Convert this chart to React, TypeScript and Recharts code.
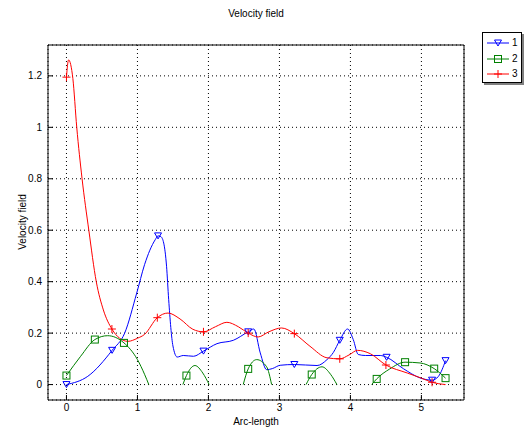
import React from 'react';
import { LineChart, Line, XAxis, YAxis, CartesianGrid, Legend } from 'recharts';

// series 1 (blue, triangles)
const s1X = [0, 0.3, 0.643, 0.82, 0.99, 1.1, 1.25, 1.29, 1.33, 1.37, 1.41, 1.44, 1.5, 1.56, 1.645, 1.79, 1.93, 2.12, 2.35, 2.56, 2.64, 2.73, 2.82, 2.9, 3.01, 3.21, 3.53, 3.67, 3.76, 3.85, 3.96, 4.04, 4.11, 4.21, 4.42, 4.51, 4.75, 4.98, 5.15, 5.24, 5.34];
const s1Y = [0, 0.032, 0.133, 0.2, 0.356, 0.466, 0.563, 0.578, 0.575, 0.55, 0.46, 0.33, 0.15, 0.107, 0.113, 0.11, 0.13, 0.159, 0.172, 0.205, 0.216, 0.123, 0.058, 0.062, 0.075, 0.078, 0.074, 0.097, 0.125, 0.172, 0.216, 0.175, 0.117, 0.113, 0.113, 0.106, 0.061, 0.026, 0.017, 0.032, 0.093];
const s1Marks = [0, 2, 7, 16, 19, 25, 29, 35, 38, 40];

// series 2 (green, squares) - null = gap where the field is negative
const s2X = [0, 0.2, 0.4, 0.58, 0.81, 1.0, 1.1, 1.16, 1.4, 1.64, 1.69, 1.81, 1.92, 2.01, 2.25, 2.49, 2.56, 2.68, 2.82, 2.89, 3.1, 3.375, 3.455, 3.6, 3.72, 3.81, 4.05, 4.3, 4.37, 4.55, 4.77, 4.98, 5.18, 5.34];
const s2Y = [0.035, 0.11, 0.175, 0.19, 0.162, 0.097, 0.04, 0, null, 0, 0.035, 0.074, 0.045, 0, null, 0, 0.061, 0.097, 0.069, 0, null, 0, 0.039, 0.069, 0.04, 0, null, 0, 0.022, 0.06, 0.087, 0.084, 0.062, 0.025];
const s2Marks = [0, 2, 4, 10, 16, 22, 28, 30, 32, 33];

// series 3 (red, plus)
const s3X = [0, 0.03, 0.09, 0.145, 0.22, 0.315, 0.42, 0.52, 0.64, 0.75, 0.865, 1.0, 1.1, 1.28, 1.43, 1.6, 1.78, 1.93, 2.1, 2.26, 2.42, 2.56, 2.7, 2.85, 3.03, 3.21, 3.43, 3.67, 3.85, 3.98, 4.1, 4.28, 4.5, 4.8, 5.0, 5.15, 5.34];
const s3Y = [1.195, 1.262, 1.19, 1.0, 0.8, 0.6, 0.4, 0.29, 0.216, 0.18, 0.168, 0.18, 0.195, 0.26, 0.278, 0.255, 0.215, 0.205, 0.225, 0.242, 0.225, 0.2, 0.185, 0.205, 0.22, 0.198, 0.149, 0.104, 0.1, 0.115, 0.133, 0.12, 0.076, 0.045, 0.025, 0.009, 0];
const s3Marks = [0, 8, 13, 17, 21, 25, 28, 32, 35];

const xTicks = [0, 1, 2, 3, 4, 5];
const yTicks = [0, 0.2, 0.4, 0.6, 0.8, 1, 1.2];

const build = (xs: number[], ys: (number | null)[], marks: number[]) =>
  xs.map((x, i) => ({ x, y: ys[i], m: marks.includes(i) }));

const series = [
  { name: '1', color: '#0000ff', shape: 'tri', data: build(s1X, s1Y, s1Marks) },
  { name: '2', color: '#008000', shape: 'sq', data: build(s2X, s2Y, s2Marks) },
  { name: '3', color: '#ff0000', shape: 'plus', data: build(s3X, s3Y, s3Marks) },
];

const Marker = ({ shape, color, cx, cy }: any) => {
  if (shape === 'tri')
    return <polygon points={`${cx - 3.5},${cy - 3} ${cx + 3.5},${cy - 3} ${cx},${cy + 3}`} fill="none" stroke={color} strokeWidth={1} />;
  if (shape === 'sq')
    return <rect x={cx - 3.5} y={cy - 3.5} width={7} height={7} fill="none" stroke={color} strokeWidth={1} />;
  return (
    <g stroke={color} strokeWidth={1}>
      <line x1={cx - 4} y1={cy} x2={cx + 4} y2={cy} />
      <line x1={cx} y1={cy - 4} x2={cx} y2={cy + 4} />
    </g>
  );
};

const makeDot = (shape: string, color: string) => (props: any) => {
  const { cx, cy, payload, index } = props;
  if (!payload || !payload.m || cx == null || cy == null || payload.y == null) return <g key={`d-${index}`} />;
  return <g key={`d-${index}`}><Marker shape={shape} color={color} cx={cx} cy={cy} /></g>;
};

const LegendBox = () => (
  <div style={{ position: 'relative', width: 40, height: 51 }}>
    <div style={{ position: 'absolute', left: 2, top: 2, width: 40, height: 51, background: '#808080' }} />
    <div style={{ position: 'absolute', left: 0, top: 0, width: 38, height: 49, background: '#fff', border: '1px solid #000' }}>
      {series.map((s, i) => (
        <div key={s.name} style={{ position: 'absolute', left: 0, top: 3 + i * 15.5, height: 14, width: 38 }}>
          <svg width={26} height={14} style={{ position: 'absolute', left: 3, top: 0 }}>
            <line x1={1} y1={7} x2={23} y2={7} stroke={s.color} strokeWidth={1} />
            <Marker shape={s.shape} color={s.color} cx={12} cy={7} />
          </svg>
          <span style={{ position: 'absolute', left: 29, top: 0, fontSize: 10, lineHeight: '14px', color: '#000' }}>{s.name}</span>
        </div>
      ))}
    </div>
  </div>
);

export default function App() {
  const tickStyle = { fontSize: 10, fill: '#000', fontFamily: 'Liberation Sans, Arial, sans-serif' };
  return (
    <div style={{ position: 'absolute', left: 0, top: 0, width: 531, height: 432, background: '#fff', fontFamily: 'Liberation Sans, Arial, sans-serif' }}>
      <div style={{ position: 'absolute', left: 48, width: 416, top: 8, textAlign: 'center', fontSize: 10, color: '#000' }}>Velocity field</div>
      <div style={{ position: 'absolute', left: 48, width: 416, top: 416, textAlign: 'center', fontSize: 10, color: '#000' }}>Arc-length</div>
      <div style={{ position: 'absolute', left: 22, top: 222, transform: 'translate(-50%, -50%) rotate(-90deg)', fontSize: 10, color: '#000', whiteSpace: 'nowrap' }}>Velocity field</div>
      <LineChart width={531} height={432} margin={{ top: 35, right: 57, bottom: 2, left: 8 }}>
        <CartesianGrid stroke="#000" strokeDasharray="1 3" strokeWidth={1} />
        <XAxis dataKey="x" type="number" domain={[-0.26, 5.6]} ticks={xTicks} height={30} allowDataOverflow
          tick={tickStyle} tickSize={-5} tickMargin={9} stroke="#000" axisLine={{ stroke: '#000' }} tickLine={{ stroke: '#000' }} />
        <XAxis xAxisId="top" orientation="top" dataKey="x" type="number" domain={[-0.26, 5.6]} ticks={xTicks} height={10} allowDataOverflow
          tick={false} tickSize={-5} axisLine={{ stroke: '#000' }} tickLine={{ stroke: '#000' }} />
        <YAxis type="number" domain={[-0.06, 1.32]} ticks={yTicks} width={40} allowDataOverflow
          tick={tickStyle} tickSize={-5} tickMargin={11} axisLine={{ stroke: '#000' }} tickLine={{ stroke: '#000' }} />
        <YAxis yAxisId="right" orientation="right" type="number" domain={[-0.06, 1.32]} ticks={yTicks} width={10} allowDataOverflow
          tick={false} tickSize={-5} axisLine={{ stroke: '#000' }} tickLine={{ stroke: '#000' }} />
        <Legend layout="vertical" align="center" verticalAlign="middle" content={() => <LegendBox />}
          wrapperStyle={{ left: 482, top: 32, width: 42, height: 53 }} />
        {series.map(s => (
          <Line key={s.name} data={s.data} dataKey="y" name={s.name} type="monotone" stroke={s.color} strokeWidth={1}
            dot={makeDot(s.shape, s.color)} activeDot={false} connectNulls={false} isAnimationActive={false} />
        ))}
      </LineChart>
    </div>
  );
}
